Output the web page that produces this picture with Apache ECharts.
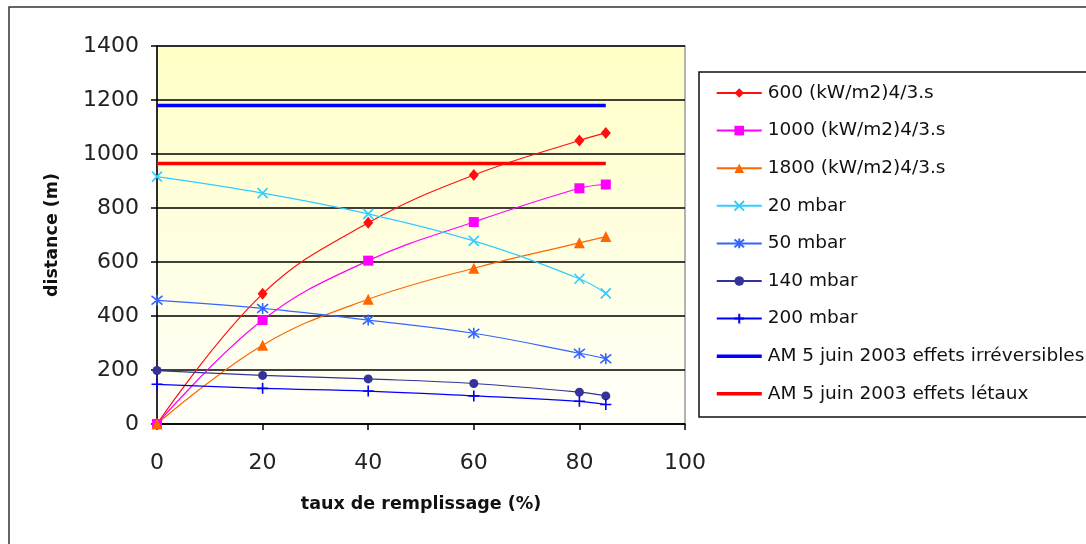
<!DOCTYPE html>
<html>
<head>
<meta charset="utf-8">
<script src="https://cdn.jsdelivr.net/npm/echarts@6/dist/echarts.min.js"></script>
<style>html,body{margin:0;padding:0;background:#fff}#c{width:1086px;height:544px}</style>
</head>
<body>
<div id="c"></div>
<script>
const xValues = [0, 20, 40, 60, 80, 85];
const s600 = [0, 482, 745, 922, 1050, 1078];
const s1000 = [0, 385, 605, 748, 873, 887];
const s1800 = [0, 292, 462, 577, 671, 694];
const m20 = [916, 855, 778, 678, 538, 484];
const m50 = [458, 428, 385, 336, 262, 242];
const m140 = [198, 180, 167, 150, 118, 104];
const m200 = [147, 132, 122, 104, 84, 72];
const thresholdX = [0, 85];
const irreversible = [1180, 1180];
const letal = [965, 965];
const seriesNames = ['600 (kW/m2)4/3.s', '1000 (kW/m2)4/3.s', '1800 (kW/m2)4/3.s', '20 mbar', '50 mbar', '140 mbar', '200 mbar', 'AM 5 juin 2003 effets irréversibles', 'AM 5 juin 2003 effets létaux'];

function pts(xs, ys) { return xs.map((x, i) => [x, ys[i]]); }

function markerSeries(name, ys, color, symbol, size, stroke) {
  return {
    name: name, type: 'line', data: pts(xValues, ys), smooth: 0.4,
    symbol: symbol, symbolSize: size,
    lineStyle: { color: color, width: 1.2 },
    itemStyle: stroke ? { color: 'rgba(0,0,0,0)', borderColor: color, borderWidth: 1.6 } : { color: color, borderWidth: 0 },
    emphasis: { disabled: true },
    z: 3
  };
}
function thresholdSeries(name, ys, color) {
  return {
    name: name, type: 'line', data: pts(thresholdX, ys), symbol: 'none', showSymbol: false,
    lineStyle: { color: color, width: 3.5 }, itemStyle: { color: color },
    emphasis: { disabled: true }, z: 2
  };
}

const chart = echarts.init(document.getElementById('c'), null, { renderer: 'canvas' });
const font = 'DejaVu Sans';
chart.setOption({
  animation: false,
  backgroundColor: '#fff',
  graphic: [
    { type: 'rect', shape: { x: 9, y: 7, width: 1100, height: 560 }, style: { fill: 'none', stroke: '#333', lineWidth: 1.5 }, z: -10, silent: true },
    { type: 'rect', shape: { x: 699, y: 72, width: 420, height: 345 }, style: { fill: '#fff', stroke: '#111', lineWidth: 1.5 }, z: -5, silent: true }
  ],
  grid: {
    left: 157, right: 401, top: 46, bottom: 120,
    show: true, borderColor: '#9a9a9a', borderWidth: 1.5,
    backgroundColor: new echarts.graphic.LinearGradient(0, 0, 0, 1, [
      { offset: 0, color: '#FFFFC6' }, { offset: 1, color: '#FFFFFA' }
    ])
  },
  xAxis: {
    type: 'value', min: 0, max: 100, interval: 20,
    name: 'taux de remplissage (%)', nameLocation: 'middle', nameGap: 71,
    nameTextStyle: { fontFamily: font, fontWeight: 'bold', fontSize: 17.5, color: '#111' },
    axisLine: { show: true, lineStyle: { color: '#000', width: 1.5 } },
    axisTick: { show: true, inside: false, length: 6, lineStyle: { color: '#000', width: 1.5 } },
    axisLabel: { fontFamily: font, fontSize: 22, color: '#222', margin: 28 },
    splitLine: { show: false }
  },
  yAxis: {
    type: 'value', min: 0, max: 1400, interval: 200,
    name: 'distance (m)', nameLocation: 'middle', nameGap: 96, nameRotate: 90,
    nameTextStyle: { fontFamily: font, fontWeight: 'bold', fontSize: 17.5, color: '#111' },
    axisLine: { show: true, lineStyle: { color: '#000', width: 1.5 } },
    axisTick: { show: true, inside: false, length: 6, lineStyle: { color: '#000', width: 1.5 } },
    axisLabel: { fontFamily: font, fontSize: 22, color: '#222', margin: 18, formatter: v => String(v) },
    splitLine: { show: true, lineStyle: { color: '#000', width: 1.5 } }
  },
  legend: {
    orient: 'vertical', left: 715, top: 83.5, padding: 0,
    itemWidth: 45, itemHeight: 12, itemGap: 18.6,
    textStyle: { fontFamily: font, fontSize: 18.5, color: '#111', lineHeight: 18, padding: [0, 0, 0, 1] },
    data: seriesNames.map((n, i) => i >= 7
      ? { name: n, itemStyle: { opacity: 0 }, lineStyle: { width: 3.5 } }
      : { name: n }),
    selectedMode: false
  },
  series: [
    markerSeries(seriesNames[0], s600, '#FF1010', 'diamond', [10, 12], false),
    markerSeries(seriesNames[1], s1000, '#FF00FF', 'rect', 10, false),
    markerSeries(seriesNames[2], s1800, '#FF6600', 'triangle', 11, false),
    markerSeries(seriesNames[3], m20, '#33CCFF', 'path://M0,0L10,10M10,0L0,10', 10, true),
    markerSeries(seriesNames[4], m50, '#3366FF', 'path://M1,1L9,9M9,1L1,9M5,0L5,10', 11, true),
    markerSeries(seriesNames[5], m140, '#333399', 'circle', 9, false),
    markerSeries(seriesNames[6], m200, '#0000FF', 'path://M5,0L5,10M0,5L10,5', 11, true),
    thresholdSeries(seriesNames[7], irreversible, '#0000FF'),
    thresholdSeries(seriesNames[8], letal, '#FF0000')
  ]
});
</script>
</body>
</html>
